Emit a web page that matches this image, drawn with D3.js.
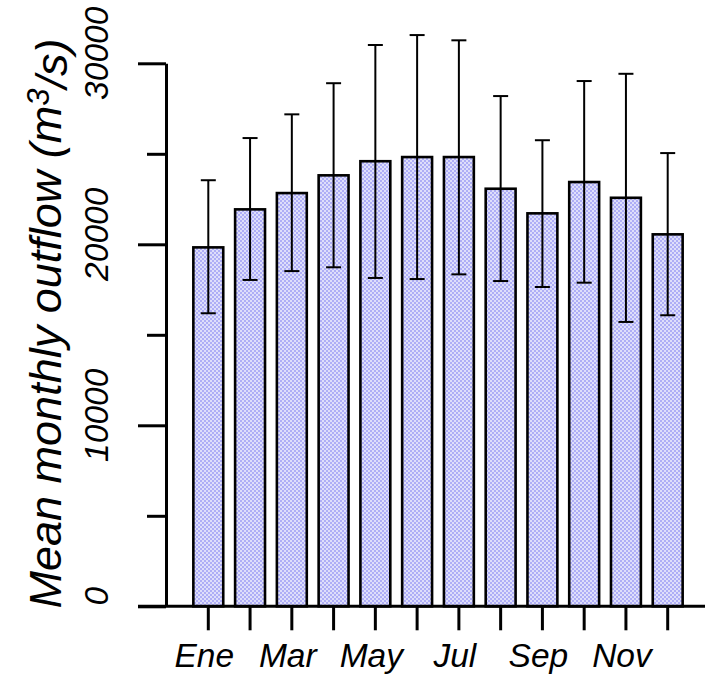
<!DOCTYPE html>
<html>
<head>
<meta charset="utf-8">
<script src="https://cdn.jsdelivr.net/npm/d3@7"></script>
<style>
  html, body { margin: 0; padding: 0; background: #fff; }
  svg { display: block; }
  text { font-family: "Liberation Sans", Arial, sans-serif; font-style: italic; fill: #000; }
</style>
</head>
<body>
<svg id="chart" width="705" height="678"></svg>
<script>
// ---- data ----
const months = ["Ene","Feb","Mar","Abr","May","Jun","Jul","Ago","Sep","Oct","Nov","Dic"];
const meanFlow = [19830, 21930, 22830, 23810, 24590, 24820, 24820, 23070, 21710, 23440, 22570, 20550];
const upperFlow = [23540, 25870, 27180, 28900, 31010, 31560, 31270, 28190, 25750, 29020, 29420, 25040];
const lowerFlow = [16190, 18030, 18520, 18730, 18140, 18080, 18340, 17970, 17640, 17880, 15710, 16080];
const xTickLabels = ["Ene","Mar","May","Jul","Sep","Nov"];
const yMajorTicks = [0, 10000, 20000, 30000];
const yMinorTicks = [5000, 15000, 25000];
const yTitle = "Mean monthly outflow (m";
const yTitleSup = "3";
const yTitleEnd = "/s)";

// ---- setup ----
const svg = d3.select("#chart");
const W = 705, H = 678;

const x = d3.scaleBand().domain(months).range([187.42, 688.58]).paddingInner(0.284).paddingOuter(0.142);
const y = d3.scaleLinear().domain([0, 30000]).range([606.3, 63.3]);

// pattern fill resembling the dotted blue texture
const defs = svg.append("defs");
const pat = defs.append("pattern").attr("id", "dots").attr("patternUnits", "userSpaceOnUse")
  .attr("width", 4).attr("height", 4);
pat.append("rect").attr("width", 4).attr("height", 4).attr("fill", "#dedefb");
pat.append("rect").attr("x", 0).attr("y", 0).attr("width", 2).attr("height", 2).attr("fill", "#aeaef6");
pat.append("rect").attr("x", 2).attr("y", 2).attr("width", 2).attr("height", 2).attr("fill", "#aeaef6");

// bars
const data = months.map((m, i) => ({ m, v: meanFlow[i], lo: lowerFlow[i], hi: upperFlow[i] }));
svg.append("g").selectAll("rect").data(data).join("rect")
  .attr("x", d => x(d.m))
  .attr("y", d => y(d.v))
  .attr("width", x.bandwidth())
  .attr("height", d => y(0) - y(d.v))
  .attr("fill", "url(#dots)")
  .attr("stroke", "#000")
  .attr("stroke-width", 2.6);

// error bars
const cx = d => x(d.m) + x.bandwidth() / 2;
const eg = svg.append("g").attr("stroke", "#000").attr("stroke-width", 2);
eg.selectAll("line.v").data(data).join("line").attr("class", "v")
  .attr("x1", cx).attr("x2", cx).attr("y1", d => y(d.lo)).attr("y2", d => y(d.hi));
eg.selectAll("line.t").data(data).join("line").attr("class", "t")
  .attr("x1", d => cx(d) - 7.5).attr("x2", d => cx(d) + 7.5).attr("y1", d => y(d.hi)).attr("y2", d => y(d.hi));
eg.selectAll("line.b").data(data).join("line").attr("class", "b")
  .attr("x1", d => cx(d) - 7.5).attr("x2", d => cx(d) + 7.5).attr("y1", d => y(d.lo)).attr("y2", d => y(d.lo));

// y axis
const axX = 166;
const yMaj = svg.append("g").attr("transform", `translate(${axX},0)`)
  .call(d3.axisLeft(y).tickValues(yMajorTicks).tickSize(28).tickSizeOuter(0).tickFormat(""));
const yMin = svg.append("g").attr("transform", `translate(${axX},0)`)
  .call(d3.axisLeft(y).tickValues(yMinorTicks).tickSize(19).tickSizeOuter(0).tickFormat(""));
yMin.select(".domain").remove();
[yMaj, yMin].forEach(g => {
  g.selectAll("line").attr("stroke", "#000").attr("stroke-width", 3);
  g.select(".domain").attr("stroke", "#000").attr("stroke-width", 3);
});

// y tick labels (rotated)
svg.append("g").selectAll("text").data(yMajorTicks).join("text")
  .attr("transform", d => `translate(108,${y(d) - 10}) rotate(-90)`)
  .attr("text-anchor", "middle")
  .style("font-size", "33.5px")
  .text(d => d);

// horizontal baseline
svg.append("line").attr("x1", 138).attr("x2", W).attr("y1", y(0)).attr("y2", y(0))
  .attr("stroke", "#000").attr("stroke-width", 3);

// x axis ticks
const xAx = svg.append("g").attr("transform", `translate(0,${y(0)})`)
  .call(d3.axisBottom(x).tickSize(24).tickSizeOuter(0).tickFormat(""));
xAx.select(".domain").remove();
xAx.selectAll("line").attr("stroke", "#000").attr("stroke-width", 3);

// x labels
svg.append("g").selectAll("text").data(xTickLabels).join("text")
  .attr("x", d => cx({ m: d }) - 4)
  .attr("y", 666.7)
  .attr("text-anchor", "middle")
  .style("font-size", "33.5px")
  .text(d => d);

// y axis title
const t = svg.append("text")
  .attr("transform", `translate(61,${(35 + 612) / 2}) rotate(-90)`)
  .attr("text-anchor", "middle")
  .style("font-size", "45px");
t.append("tspan").text(yTitle);
t.append("tspan").attr("dy", "-0.4em").style("font-size", "31px").text(yTitleSup);
t.append("tspan").attr("dy", "0.4em").text(yTitleEnd);
</script>
</body>
</html>
